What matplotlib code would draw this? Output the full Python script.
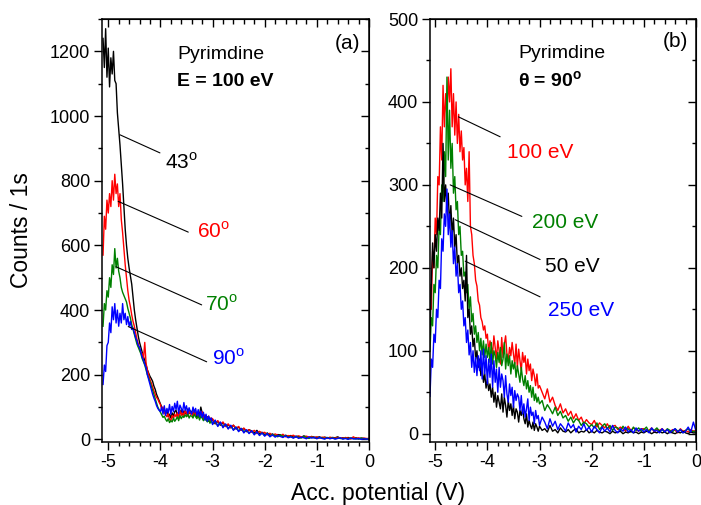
import numpy as np
import matplotlib
matplotlib.use("Agg")
import matplotlib.pyplot as plt
from matplotlib.ticker import MultipleLocator

plt.rcParams['font.family'] = ['Liberation Sans', 'DejaVu Sans']
plt.rcParams['mathtext.fontset'] = 'custom'
plt.rcParams['mathtext.rm'] = 'Liberation Sans'
plt.rcParams['mathtext.bf'] = 'Liberation Sans:bold'
plt.rcParams['axes.unicode_minus'] = False

# ---- sampling grid of accelerating potential (V) ----
x_peak = np.linspace(-5.1, -3.025, 84)   # 0.025 V step
x_tail = np.linspace(-3.0, 0.0, 61)      # 0.05 V step
acc_pot = np.concatenate([x_peak, x_tail])

# ---- panel (a): Pyrimidine, E = 100 eV, different angles ----
a_labels = ['43', '60', '70', '90']
a_colors = ['black', 'red', 'green', 'blue']

a_43 = [1240,1150,1270,1120, 1210,1090,1180,1130, 1200,1110,1100,1010, 960,910,850,790,
        720,650,600,560, 530,505,480,440, 400,370,345,320, 300,285,270,255,
        245,230,215,205, 195,188,180,165, 155,140,130,120,
        110,100,92,96, 80,88,70,78, 66,82,72,86, 90,74,84,80, 92,76,88,82,
        78,94,80,88, 86,72,90,78, 70,84,76,100, 82,66,74,60, 70,56,66,58,
        62,48,56,44,52,40,46,36,44,32,
        38,28,34,24,30,26,20,28,18,22,
        15,20,13,17,11,15,14,9,13,10,
        12,7,10,9,6,11,8,5,9,7,
        6,8,4,7,5,3,6,5,8,3,
        5,3,6,2,4,5,2,4,3,2,
        3]
a_60 = [570,690,650,740, 700,760,720,800, 740,820,760,790, 720,760,680,640,
        590,540,500,460, 430,410,385,365, 350,330,310,295, 280,270,265,250,
        300,235,215,200, 185,175,162,150, 140,130,125,115,
        108,92,100,82, 76,70,80,62, 58,74,64,78, 70,82,66,88, 74,86,70,90,
        80,72,92,78, 84,70,88,76, 82,68,78,74, 86,64,76,70, 62,72,56,66,
        64,50,58,46,54,40,48,36,44,34,
        40,28,35,26,30,22,28,18,25,20,
        22,14,19,12,17,13,10,16,8,12,
        10,13,7,11,8,6,10,7,9,5,
        8,4,7,6,3,7,5,4,6,5,
        3,6,4,2,8,3,5,2,4,3,
        2]
a_70 = [350,420,400,460, 440,500,470,540, 510,590,530,560, 520,500,470,455,
        445,435,425,405, 390,375,355,340, 325,310,295,285, 275,265,250,240,
        230,215,200,190, 178,165,152,138, 125,112,100,92,
        84,76,68,72, 62,56,64,52, 58,54,66,56, 62,70,58,74, 64,72,68,76,
        70,80,66,74, 72,66,78,70, 64,76,60,72, 66,58,70,60, 54,62,50,58,
        48,56,42,50,40,46,34,42,30,38,
        26,34,24,28,20,26,17,23,14,20,
        12,18,10,15,12,8,14,9,11,7,
        9,5,8,7,4,9,6,3,7,5,
        3,6,5,2,6,3,5,2,4,3,
        2,4,1,5,2,3,1,4,2,1,
        1]
a_90 = [170,230,210,290, 300,360,330,410, 370,420,360,400, 350,390,360,420,
        370,390,355,380, 350,365,340,345, 330,315,305,290, 285,270,255,245,
        232,222,200,185, 170,155,140,128, 118,105,96,90,
        86,100,78,104, 74,96,82,108, 78,102,86,112, 92,118,80,106, 96,84,114,90,
        104,80,98,86, 78,100,84,96, 74,92,70,88, 68,84,60,78, 56,72,60,66,
        46,60,40,54,36,48,32,44,28,38,
        24,34,20,30,18,27,14,24,12,20,
        10,18,8,14,7,12,9,6,11,5,
        8,4,9,3,7,5,2,8,4,6,
        2,6,3,1,5,2,4,1,3,5,
        1,3,0,4,2,1,3,0,2,1,
        1]

# ---- panel (b): Pyrimidine, theta = 90 deg, different energies ----
b_labels = ['100 eV', '200 eV', '50 eV', '250 eV']
b_colors = ['red', 'green', 'black', 'blue']

b_100 = [180,150,220,200, 260,240,310,300, 370,330,420,370, 410,380,430,400,
         440,370,410,360, 400,350,385,340, 365,330,345,300, 320,280,340,250,
         240,215,205,185, 178,160,155,140, 135,125,130,115,
         120,98,112,105, 96,118,104,90, 112,100,84,116, 92,108,118,96, 88,104,94,110,
         96,84,108,80, 102,88,76,98, 86,94,72,90, 76,84,64,78, 70,58,72,55,
         58,50,42,54,38,44,34,28,36,25,
         30,22,27,18,24,16,20,12,17,13,
         11,16,8,13,10,7,12,6,9,10,
         5,8,6,3,9,4,7,5,3,6,
         6,3,4,7,2,5,4,6,3,5,
         2,5,4,1,6,3,4,2,5,3,
         4]
b_200 = [100,140,130,180, 170,215,200,250, 240,300,280,340, 310,430,330,390,
         320,350,290,310, 270,280,240,250, 215,220,190,195, 170,180,150,165,
         135,145,120,130, 110,122,100,115, 95,112,92,108,
         92,104,86,110, 84,100,94,80, 98,86,104,82, 90,110,78,96, 82,94,72,88,
         78,86,68,82, 72,62,80,66, 58,70,54,64, 50,58,44,56, 40,48,38,44,
         36,40,28,35,30,24,32,22,27,19,
         22,15,20,13,18,16,10,14,12,8,
         11,7,13,5,9,12,6,10,4,8,
         7,3,9,5,6,2,8,4,7,3,
         5,8,2,6,4,7,3,5,2,6,
         4,2,6,3,5,1,4,6,2,3,
         2]
b_50 = [120,180,230,200, 240,220,260,245, 290,260,350,280, 300,270,290,250,
        275,240,260,225, 240,205,215,190, 200,175,185,160, 215,140,150,120,
        130,105,115,90, 100,80,90,70, 80,62,72,55,
        66,52,60,44, 56,38,50,32, 46,38,30,48, 26,44,34,20, 40,28,36,22,
        34,18,30,26, 14,28,22,30, 18,12,24,8, 16,10,6,14, 4,12,8,3,
        9,4,6,2,10,3,5,1,7,3,
        2,5,1,4,6,1,3,2,5,1,
        3,1,4,2,1,3,2,0,3,1,
        2,3,0,2,1,3,1,2,0,2,
        1,3,2,0,2,1,3,1,2,0,
        2,1,0,2,1,3,1,0,2,1,
        1]
b_250 = [45,90,80,120, 110,150,140,185, 175,235,220,265, 250,295,240,265,
         225,245,205,225, 190,205,170,180, 150,160,130,140, 110,125,95,110,
         80,100,74,92, 70,94,76,100, 66,102,72,94,
         60,90,68,96, 56,88,62,78, 50,80,56,72, 64,44,70,48, 38,60,46,56,
         32,52,40,48, 44,28,46,24, 36,20,30,42, 16,32,22,26, 12,28,18,22,
         10,20,14,6,18,9,15,5,12,8,
         3,13,7,11,2,9,5,12,4,8,
         2,9,5,1,8,3,7,2,10,4,
         1,6,3,8,2,5,1,7,3,6,
         2,5,1,7,3,4,1,6,2,5,
         1,4,6,2,5,1,3,8,2,14,
         3]

a_series = [a_43, a_60, a_70, a_90]
b_series = [b_100, b_200, b_50, b_250]

fig = plt.figure(figsize=(7.01, 5.05), dpi=100)
axa = fig.add_axes([102/701, 1-442/505, 267/701, 423/505])
axb = fig.add_axes([430/701, 1-442/505, 266/701, 423/505])


def style_axis(ax, ymaj, ymin):
    ax.xaxis.set_major_locator(MultipleLocator(1))
    ax.xaxis.set_minor_locator(MultipleLocator(0.2))
    ax.yaxis.set_major_locator(MultipleLocator(ymaj))
    ax.yaxis.set_minor_locator(MultipleLocator(ymin))
    ax.tick_params(which='both', direction='out', top=False, right=False,
                   labelsize=13, width=1.0, pad=3)
    ax.tick_params(which='major', length=5.5)
    ax.tick_params(which='minor', length=3)
    for s in ax.spines.values():
        s.set_linewidth(1.1)
    sx = ax.secondary_xaxis('top')
    sx.xaxis.set_major_locator(MultipleLocator(1))
    sx.xaxis.set_minor_locator(MultipleLocator(0.2))
    sx.tick_params(which='both', direction='in', labeltop=False, width=1.0)
    sx.tick_params(which='major', length=5.5)
    sx.tick_params(which='minor', length=3.5)
    sy = ax.secondary_yaxis('right')
    sy.yaxis.set_major_locator(MultipleLocator(ymaj))
    sy.yaxis.set_minor_locator(MultipleLocator(ymin))
    sy.tick_params(which='both', direction='in', labelright=False, width=1.0)
    sy.tick_params(which='major', length=5.5)
    sy.tick_params(which='minor', length=3)


for ys, c in zip(a_series, a_colors):
    axa.plot(acc_pot, ys, color=c, lw=1.0)
for ys, c in zip(b_series, b_colors):
    axb.plot(acc_pot, ys, color=c, lw=1.0)

axa.set_xlim(-5.12, 0)
axa.set_ylim(-8, 1300)
axb.set_xlim(-5.1, 0)
axb.set_ylim(-10, 500)
style_axis(axa, 200, 100)
style_axis(axb, 100, 50)

# panel texts
axa.text(0.281, 0.915, 'Pyrimdine', transform=axa.transAxes, fontsize=14,
         ha='left', va='center')
axa.text(0.281, 0.853, 'E = 100 eV', transform=axa.transAxes, fontsize=14,
         fontweight='bold', ha='left', va='center')
axa.text(0.966, 0.943, '(a)', transform=axa.transAxes, fontsize=15,
         ha='right', va='center')
axb.text(0.331, 0.918, 'Pyrimdine', transform=axb.transAxes, fontsize=14,
         ha='left', va='center')
axb.text(0.331, 0.855, r'θ = 90$^{\mathbf{o}}$', transform=axb.transAxes,
         fontsize=14, fontweight='bold', ha='left', va='center')
axb.text(0.970, 0.946, '(b)', transform=axb.transAxes, fontsize=15,
         ha='right', va='center')

# leader lines and labels (data coordinates)
a_lead = [((-4.777, 942), (-4.009, 886), (-3.913, 858)),
          ((-4.809, 736), (-3.466, 641), (-3.30, 642)),
          ((-4.853, 534), (-3.209, 416), (-3.146, 419)),
          ((-4.617, 349), (-3.113, 240), (-3.012, 252))]
for (p0, p1, pt), lab, c in zip(a_lead, a_labels, a_colors):
    axa.annotate('', xy=p0, xytext=p1,
                 arrowprops=dict(arrowstyle='-', color='black', lw=0.8,
                                 shrinkA=0, shrinkB=0))
    axa.text(pt[0], pt[1], lab + r'$^{\mathrm{o}}$', color=c, fontsize=15,
             ha='left', va='center')

b_lead = [((-4.554, 382), (-3.755, 358), (-3.621, 339)),
          ((-4.713, 300), (-3.339, 262), (-3.142, 255)),
          ((-4.617, 258), (-2.989, 210), (-2.893, 201)),
          ((-4.425, 208), (-2.989, 165), (-2.835, 148))]
for (p0, p1, pt), lab, c in zip(b_lead, b_labels, b_colors):
    axb.annotate('', xy=p0, xytext=p1,
                 arrowprops=dict(arrowstyle='-', color='black', lw=0.8,
                                 shrinkA=0, shrinkB=0))
    axb.text(pt[0], pt[1], lab, color=c, fontsize=15, ha='left', va='center')

fig.text(0.031, 0.545, 'Counts / 1s', rotation=90, fontsize=16.5,
         ha='center', va='center')
fig.text(0.54, 0.022, 'Acc. potential (V)', fontsize=16.5,
         ha='center', va='center')

fig.savefig('out.png', dpi=100)
